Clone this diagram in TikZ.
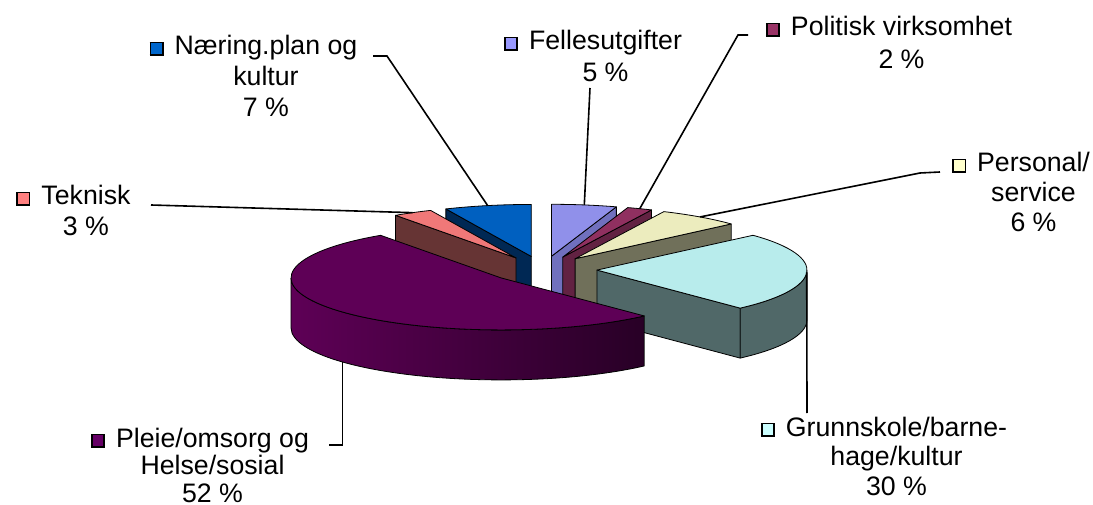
\documentclass[tikz,border=0pt]{standalone}
\usepackage{fontspec}
\setmainfont{Liberation Sans}
\usetikzlibrary{calc}

\definecolor{naertop}{RGB}{0,96,192}
\definecolor{naerside}{RGB}{0,40,84}
\definecolor{naerkey}{RGB}{0,102,204}
\definecolor{felltop}{RGB}{144,144,234}
\definecolor{fellside}{RGB}{112,112,190}
\definecolor{fellkey}{RGB}{153,153,255}
\definecolor{polittop}{RGB}{144,48,96}
\definecolor{politside}{RGB}{98,34,66}
\definecolor{politkey}{RGB}{153,51,102}
\definecolor{tekntop}{RGB}{240,120,120}
\definecolor{teknside}{RGB}{102,52,52}
\definecolor{teknkey}{RGB}{255,128,128}
\definecolor{perstop}{RGB}{236,236,190}
\definecolor{persside}{RGB}{112,112,90}
\definecolor{perskey}{RGB}{255,255,204}
\definecolor{grunntop}{RGB}{184,236,236}
\definecolor{grunnside}{RGB}{80,104,104}
\definecolor{grunnkey}{RGB}{204,255,255}
\definecolor{pleietop}{RGB}{94,0,86}
\definecolor{pleieside}{RGB}{40,0,38}
\definecolor{pleiekey}{RGB}{102,0,102}

\newcommand\keybox[1]{\llap{\raisebox{1pt}{\setlength\fboxsep{0pt}\setlength\fboxrule{1.6pt}%
  \fcolorbox{black}{#1}{\rule{0pt}{10.8pt}\rule{10.8pt}{0pt}}}\hspace{11pt}}}

\tikzset{
  face/.style={draw=black, line width=0.8pt, line join=round},
  rim/.style={x radius=210pt, y radius=52pt},
  lbl/.style={anchor=base, align=center, inner sep=0pt,
    font=\fontsize{26.7}{#1}\selectfont},
  leader/.style={draw=black, line width=1.6pt},
}

\begin{document}
\begin{tikzpicture}[x=1pt, y=1pt]
\useasboundingbox (0,0) rectangle (1093,504);

% Naering 90..114
\begin{scope}[shift={(531.3,247.55)}]
\filldraw[face, fill=naerside] (0,0) -- (114:210pt and 52pt) -- ++(0,-50) -- (0,-50) -- cycle;
\filldraw[face, fill=naertop] (0,0) -- (90:210pt and 52pt)
   arc[rim, start angle=90, end angle=114] -- cycle;
\coordinate (naer-m) at (102:210pt and 52pt);
\end{scope}

% Fellesutgifter 72..90
\begin{scope}[shift={(551.45,247.7)}]
\filldraw[face, fill=fellside] (0,0) -- (72:210pt and 52pt) -- ++(0,-50) -- (0,-50) -- cycle;
\filldraw[face, fill=felltop] (0,0) -- (72:210pt and 52pt)
   arc[rim, start angle=72, end angle=90] -- cycle;
\coordinate (fell-m) at (81:210pt and 52pt);
\end{scope}

% Politisk 65..72
\begin{scope}[shift={(562.8,246.94)}]
\filldraw[face, fill=politside] (0,0) -- (65:210pt and 52pt) -- ++(0,-50) -- (0,-50) -- cycle;
\filldraw[face, fill=polittop] (0,0) -- (65:210pt and 52pt)
   arc[rim, start angle=65, end angle=72] -- cycle;
\coordinate (polit-m) at (68.5:210pt and 52pt);
\end{scope}

% Teknisk 114..125
\begin{scope}[shift={(516,246.08)}]
\filldraw[face, fill=teknside] (0,0) -- (125:210pt and 52pt) -- ++(0,-50) -- (0,-50) -- cycle;
\filldraw[face, fill=tekntop] (0,0) -- (114:210pt and 52pt)
   arc[rim, start angle=114, end angle=125] -- cycle;
\coordinate (tekn-m) at (119.5:210pt and 52pt);
\end{scope}

% Personal 42..65
\begin{scope}[shift={(575.1,245.25)}]
\filldraw[face, fill=persside] (0,0) -- (42:210pt and 52pt) -- ++(0,-50) -- (0,-50) -- cycle;
\filldraw[face, fill=perstop] (0,0) -- (42:210pt and 52pt)
   arc[rim, start angle=42, end angle=65] -- cycle;
\coordinate (pers-m) at (53.5:210pt and 52pt);
\end{scope}

% Grunnskole -47..42
\begin{scope}[shift={(596.95,233.92)}]
\filldraw[face, fill=grunnside] (0,0) -- (-47:210pt and 52pt) -- ++(0,-50) -- (0,-50) -- cycle;
\filldraw[face, fill=grunnside] (-47:210pt and 52pt)
   arc[rim, start angle=-47, end angle=0] -- ++(0,-50)
   arc[rim, start angle=0, end angle=-47] -- cycle;
\filldraw[face, fill=grunntop] (0,0) -- (-47:210pt and 52pt)
   arc[rim, start angle=-47, end angle=42] -- cycle;
\coordinate (grunn-m) at (-2.5:210pt and 52pt);
\end{scope}

% Pleie 125..313
\begin{scope}[shift={(501.04,226.09)}]
\draw[face, left color=pleietop, right color=pleieside] (180:210pt and 52pt)
   arc[rim, start angle=180, end angle=313] -- ++(0,-50)
   arc[rim, start angle=313, end angle=180] -- cycle;
\filldraw[face, fill=pleietop] (0,0) -- (125:210pt and 52pt)
   arc[rim, start angle=125, end angle=313] -- cycle;
\coordinate (pleie-r) at (221:210pt and 52pt);
\coordinate (pleie-m) at ($(pleie-r)+(0,-50)$);
\end{scope}

% labels (base = last line)
\node[lbl=31] (naer) at (266,387) {\keybox{naerkey}Næring.plan og\\kultur\\7 \%};
\node[lbl=32] (fell) at (605.5,422) {\keybox{fellkey}Fellesutgifter\\5 \%};
\node[lbl=33] (polit) at (901.5,435) {\keybox{politkey}Politisk virksomhet\\2 \%};
\node[lbl=30] (pers) at (1033.5,272) {\keybox{perskey}Personal/\\service\\6 \%};
\node[lbl=29.5] (grunn) at (896.5,9) {\keybox{grunnkey}Grunnskole/barne-\\hage/kultur\\30 \%};
\node[lbl=27.5] (pleie) at (212.5,2) {\keybox{pleiekey}Pleie/omsorg og\\Helse/sosial\\52 \%};
\node[lbl=31] (tekn) at (86,268) {\keybox{teknkey}Teknisk\\3 \%};

% leader lines
\coordinate (naer-a) at (373,448);
\coordinate (naer-b) at (387,448);
\coordinate (fell-a) at (590,416);
\coordinate (polit-a) at (748,469);
\coordinate (polit-b) at (738,469);
\coordinate (pers-a) at (940,332);
\coordinate (pers-b) at (920,331);
\coordinate (grunn-a) at (807,91);
\coordinate (pleie-a) at (329,59);
\coordinate (tekn-a) at (151,299);

\draw[leader] (naer-a) -- (naer-b) -- (naer-m);
\draw[leader] (fell-a) -- (fell-m);
\draw[leader] (polit-a) -- (polit-b) -- (polit-m);
\draw[leader] (pers-a) -- (pers-b) -- (pers-m);
\draw[leader] (grunn-a) -- (grunn-m);
\draw[leader] (pleie-a) -- (pleie-a -| pleie-m) -- (pleie-m);
\draw[leader] (tekn-a) -- (tekn-m);
\end{tikzpicture}
\end{document}
